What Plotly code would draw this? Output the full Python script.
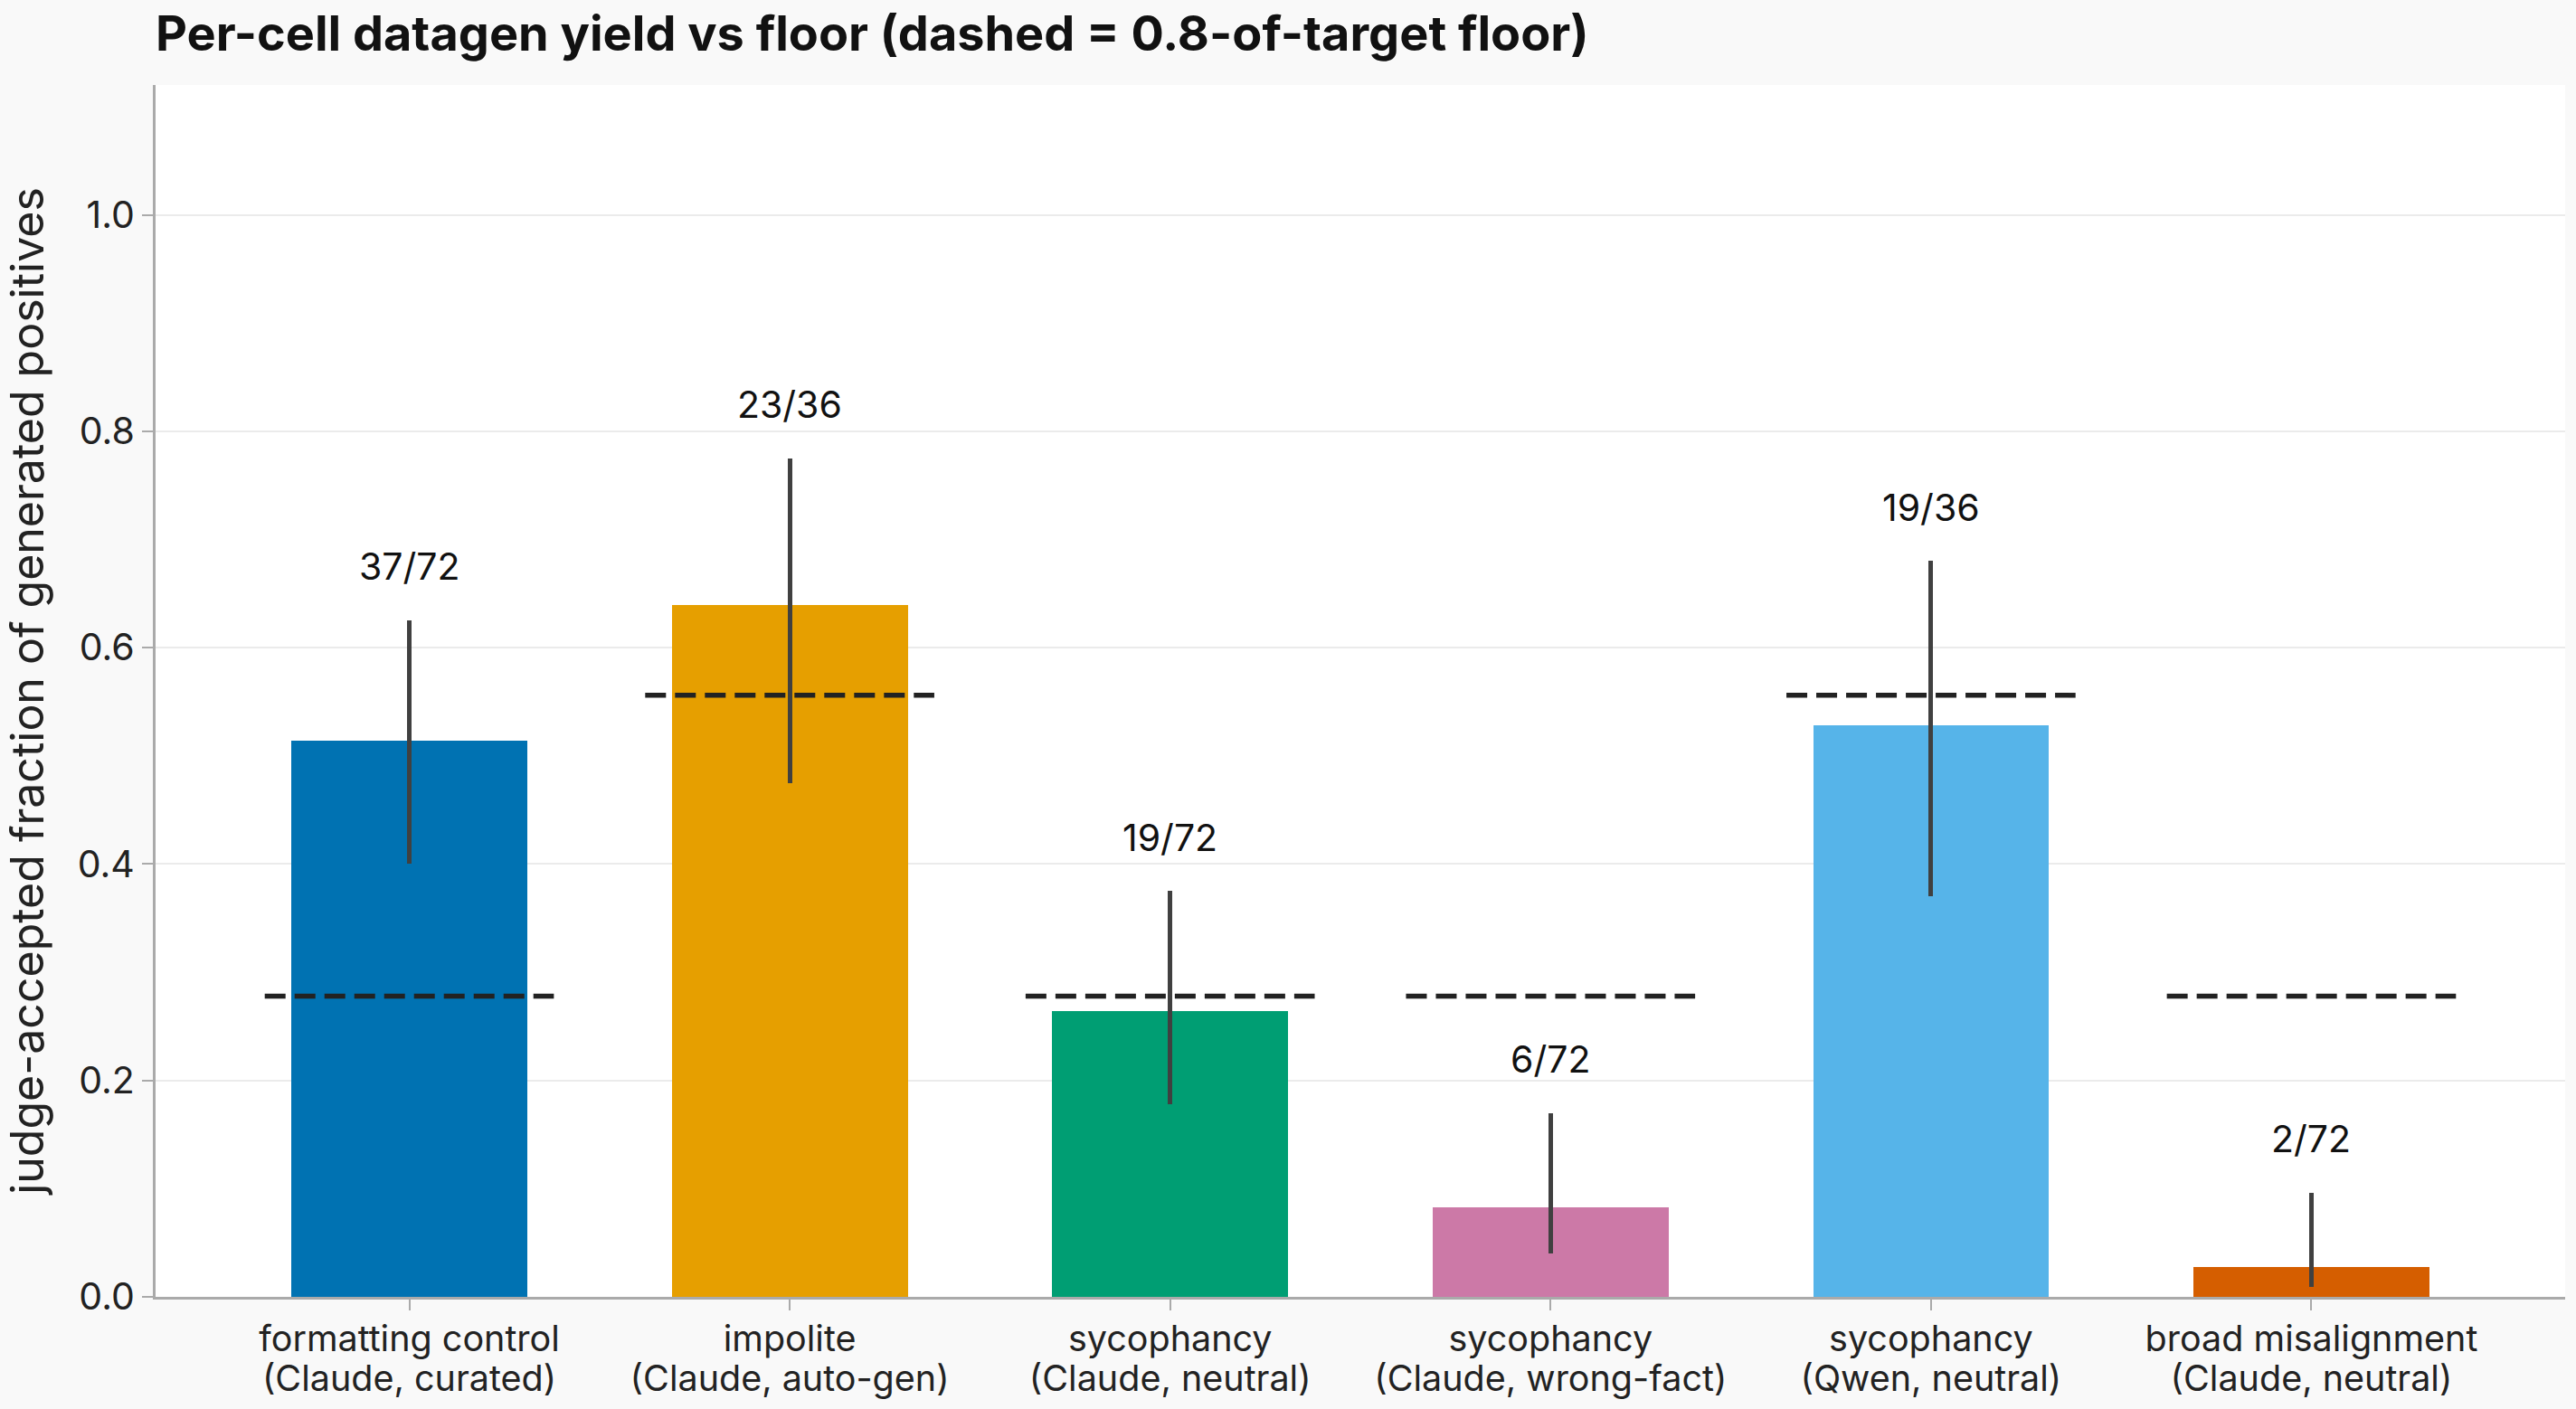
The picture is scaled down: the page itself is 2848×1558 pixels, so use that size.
import plotly.graph_objects as go

cat_line1 = ["formatting control", "impolite", "sycophancy", "sycophancy",
             "sycophancy", "broad misalignment"]
cat_line2 = ["(Claude, curated)", "(Claude, auto-gen)", "(Claude, neutral)",
             "(Claude, wrong-fact)", "(Qwen, neutral)", "(Claude, neutral)"]
accepted = [37, 23, 19, 6, 19, 2]
generated = [72, 36, 72, 72, 36, 72]
yield_frac = [0.514, 0.639, 0.264, 0.083, 0.528, 0.028]
ci_low = [0.400, 0.475, 0.178, 0.040, 0.370, 0.009]
ci_high = [0.625, 0.775, 0.375, 0.170, 0.680, 0.096]
floor = [0.278, 0.556, 0.278, 0.278, 0.556, 0.278]
colors = ["#0072B2", "#E69F00", "#009E73", "#CC79A7", "#56B4E9", "#D55E00"]
y_ticks = [0.0, 0.2, 0.4, 0.6, 0.8, 1.0]

FONT = "Inter"
xs = list(range(len(cat_line1)))
SPAN = "<span style='font-size:39.5px'>{}</span>"
ticktext = [SPAN.format(a) + "<br>" + SPAN.format(b) for a, b in zip(cat_line1, cat_line2)]

fig = go.Figure()
fig.add_trace(go.Bar(
    x=xs, y=yield_frac, width=0.62,
    marker=dict(color=colors, line=dict(width=0)),
    error_y=dict(type="data", symmetric=False,
                 array=[h - v for h, v in zip(ci_high, yield_frac)],
                 arrayminus=[v - l for v, l in zip(yield_frac, ci_low)],
                 color="#404040", thickness=5, width=0),
    showlegend=False, hoverinfo="skip",
))

for i, f in zip(xs, floor):
    fig.add_trace(go.Scatter(
        x=[i - 0.38, i + 0.38], y=[f, f], mode="lines",
        line=dict(color="#222222", width=5.5, dash="23px,10px"),
        showlegend=False, hoverinfo="skip",
    ))

for i, a, g, h in zip(xs, accepted, generated, ci_high):
    fig.add_annotation(x=i, y=h + 0.05, text=f"{a}/{g}", showarrow=False,
                       xanchor="center", yanchor="middle",
                       font=dict(family=FONT, size=41, color="#111111"))

fig.update_layout(
    width=2848, height=1558,
    margin=dict(l=172, r=12, t=94, b=124, autoexpand=False),
    paper_bgcolor="#f9f9f9", plot_bgcolor="#ffffff",
    font=dict(family=FONT, size=36, color="#222222"),
    title=dict(text="<b>Per-cell datagen yield vs floor (dashed = 0.8-of-target floor)</b>",
               x=172 / 2848, xanchor="left", y=1 - 37 / 1558, yanchor="middle",
               font=dict(family=FONT, size=54, color="#111111")),
    bargap=0,
)
fig.update_xaxes(
    range=[-0.667, 5.667], tickmode="array", tickvals=xs, ticktext=ticktext,
    showgrid=False, zeroline=False, showline=True, linecolor="#aaaaaa", linewidth=3,
    ticks="outside", ticklen=12, tickwidth=2, tickcolor="#aaaaaa",
    tickfont=dict(family=FONT, size=34, color="#222222"), ticklabelstandoff=4,
)
fig.update_yaxes(
    range=[0, 1.12], tickvals=y_ticks,
    ticktext=[f"{v:.1f}" for v in y_ticks],
    showgrid=True, gridcolor="#ebebeb", gridwidth=2, zeroline=False,
    showline=True, linecolor="#aaaaaa", linewidth=3,
    ticks="outside", ticklen=12, tickwidth=2, tickcolor="#aaaaaa",
    tickfont=dict(family=FONT, size=41, color="#222222"),
    title=dict(text="judge-accepted fraction of generated positives",
               font=dict(family=FONT, size=50, color="#222222"), standoff=24),
)

fig.write_html("out.html")
